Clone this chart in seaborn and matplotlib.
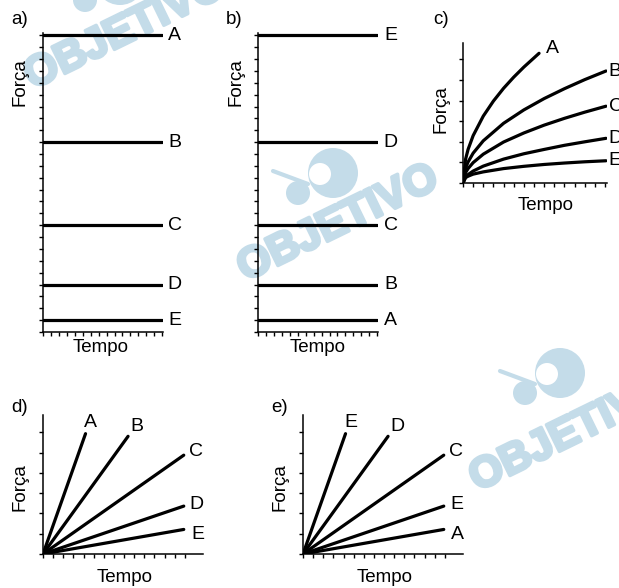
import matplotlib
matplotlib.use('Agg')
import matplotlib.pyplot as plt
import matplotlib.patheffects as pe
import seaborn as sns
from matplotlib.patches import Circle

# --- data ---
labels_a = ['A', 'B', 'C', 'D', 'E']
levels_a = [25, 16, 9, 4, 1]
labels_b = ['E', 'D', 'C', 'B', 'A']
levels_b = [25, 16, 9, 4, 1]
time_ab = [0, 15]

# panel c: curves (Tempo, Força)
labels_c = ['A', 'B', 'C', 'D', 'E']
t_cA = [0, 0.25, 0.5, 1, 2, 3, 4, 5, 6, 7.5]
f_cA = [0, 1.15, 1.63, 2.3, 3.25, 3.98, 4.6, 5.14, 5.63, 6.3]
t_c = [0, 0.25, 0.5, 1, 2, 4, 6, 8, 10, 12, 14.1]
f_cB = [0, 0.72, 1.02, 1.45, 2.05, 2.9, 3.55, 4.1, 4.58, 5.02, 5.44]
f_cC = [0, 0.5, 0.7, 0.99, 1.4, 1.99, 2.43, 2.81, 3.14, 3.44, 3.73]
f_cD = [0, 0.29, 0.41, 0.58, 0.82, 1.16, 1.42, 1.63, 1.83, 2.0, 2.17]
f_cE = [0, 0.26, 0.33, 0.43, 0.54, 0.7, 0.81, 0.9, 0.97, 1.03, 1.08]

# panels d and e: straight lines from the origin
labels_d = ['A', 'B', 'C', 'D', 'E']
labels_e = ['E', 'D', 'C', 'E', 'A']
end_t_de = [4.2, 8.4, 13.9, 13.9, 13.9]
end_f_de = [5.93, 5.8, 4.87, 2.36, 1.21]

W, H = 619, 588
sns.set_theme(style='ticks')
plt.rcParams['font.family'] = ['Liberation Sans', 'DejaVu Sans']
plt.rcParams['text.color'] = 'black'

fig = plt.figure(figsize=(W / 100, H / 100), dpi=100)
fig.patch.set_facecolor('white')

# background layer in pixel coordinates (watermark + free texts)
bg = fig.add_axes([0, 0, 1, 1], zorder=-1)
bg.set_xlim(0, W)
bg.set_ylim(H, 0)
bg.axis('off')

wm = '#c4dce9'
# (text centre, logo centre)
for (tx, ty), (lx, ly) in [((125, 32), (120, -20)),
                           ((338, 224), (333, 173)),
                           ((570, 434), (560, 373))]:
    bg.text(tx, ty, 'OBJETIVO', color=wm, fontsize=31, fontweight='bold',
            rotation=26, ha='center', va='center', rotation_mode='anchor',
            path_effects=[pe.withStroke(linewidth=2.5, foreground=wm)])
    bg.add_patch(Circle((lx, ly), 25, color=wm, lw=0))
    bg.add_patch(Circle((lx - 13, ly + 1), 11, color='white', lw=0))
    bg.add_patch(Circle((lx - 35, ly + 20), 12, color=wm, lw=0))
    bg.plot([lx - 60, lx - 25], [ly - 2, ly + 11], color=wm, lw=3)


def px_axes(left, top, right, bottom):
    ax = fig.add_axes([left / W, 1 - bottom / H, (right - left) / W, (bottom - top) / H])
    ax.patch.set_alpha(0)
    sns.despine(ax=ax)
    for s in ['left', 'bottom']:
        ax.spines[s].set_linewidth(1.1)
        ax.spines[s].set_color('black')
    ax.tick_params(direction='out', length=3, width=1, color='black',
                   labelleft=False, labelbottom=False)
    return ax


LW = 2.3
FS = 13.5
LFS = 14

# a) and b)
for box, levels, labels, lx in [((43, 33, 163, 332), levels_a, labels_a, 16.6),
                                ((258, 33, 378, 332), levels_b, labels_b, 16.7)]:
    ax = px_axes(*box)
    for lev, lab in zip(levels, labels):
        sns.lineplot(x=time_ab, y=[lev, lev], color='black', lw=LW, ax=ax)
        ax.text(lx, lev, lab, fontsize=LFS, ha='center', va='center', clip_on=False)
    ax.set_xlim(0, 15.1)
    ax.set_ylim(0, 25.2)
    ax.set_xticks(range(0, 16))
    ax.set_yticks(range(0, 26))
    ax.set_xlabel('')
    ax.set_ylabel('')

# c)
ax = px_axes(463, 43, 607, 183)
curves = [(t_cA, f_cA), (t_c, f_cB), (t_c, f_cC), (t_c, f_cD), (t_c, f_cE)]
for (tt, ff), lab in zip(curves, labels_c):
    sns.lineplot(x=tt, y=ff, color='black', lw=LW, ax=ax)
ax.text(8.8, 6.52, 'A', fontsize=LFS, ha='center', va='center', clip_on=False)
for ff, lab in zip([f_cB, f_cC, f_cD, f_cE], labels_c[1:]):
    ax.text(14.36, ff[-1], lab, fontsize=LFS, ha='left', va='center', clip_on=False)
ax.set_xlim(0, 14.2)
ax.set_ylim(0, 6.8)
ax.set_xticks(range(0, 15))
ax.set_yticks(range(0, 7))
ax.set_xlabel('')
ax.set_ylabel('')

# d) and e)
label_pos_de = [(4.7, 6.49), (9.3, 6.27), (15.07, 5.07), (15.2, 2.45), (15.3, 0.98)]
for box, labels in [((43, 415, 203, 554), labels_d), ((303, 415, 463, 554), labels_e)]:
    ax = px_axes(*box)
    for tx, fy, lab, (px, py) in zip(end_t_de, end_f_de, labels, label_pos_de):
        sns.lineplot(x=[0, tx], y=[0, fy], color='black', lw=LW, ax=ax)
        ax.text(px, py, lab, fontsize=LFS, ha='center', va='center', clip_on=False)
    ax.set_xlim(0, 15.8)
    ax.set_ylim(0, 6.85)
    ax.set_xticks(range(0, 15))
    ax.set_yticks(range(0, 7))
    ax.set_xlabel('')
    ax.set_ylabel('')

# panel letters and axis titles
for txt, x, y in [('a)', 20, 19), ('b)', 234, 19), ('c)', 441, 20), ('d)', 20, 408), ('e)', 280, 408)]:
    bg.text(x, y, txt, fontsize=FS, ha='center', va='center')
for x, y in [(20, 82), (236, 82), (441, 109), (20, 487), (280, 487)]:
    bg.text(x, y, 'Força', fontsize=FS, rotation=90, ha='center', va='center')
for x, y in [(101, 347), (318, 347), (546, 206), (125, 578), (385, 578)]:
    bg.text(x, y, 'Tempo', fontsize=FS, ha='center', va='center')

fig.savefig('out.png', dpi=100)
